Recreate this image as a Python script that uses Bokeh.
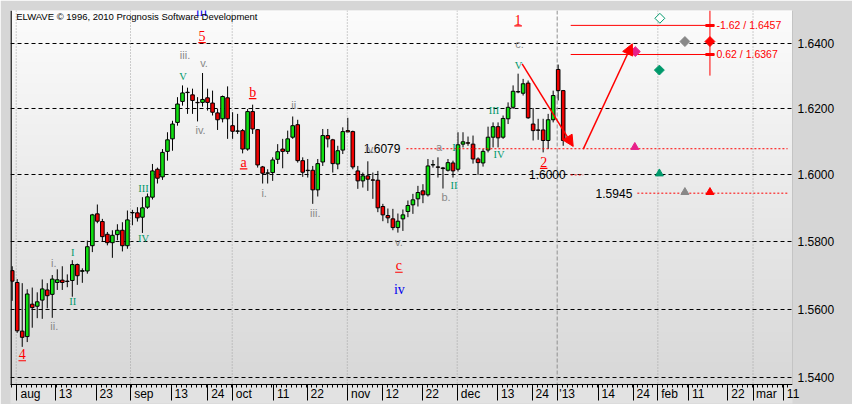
import math
import numpy as np
from bokeh.plotting import figure
from bokeh.models import (Range1d, FixedTicker, CustomJSTickFormatter, PrintfTickFormatter,
                          Span, Arrow, NormalHead)
from bokeh.core.properties import value
from bokeh.embed import file_html
from bokeh.resources import INLINE

# ---------------- data: daily bars, 31 Jul 2012 .. 3 Jan 2013 ----------------
opens = [1.5714, 1.5679, 1.5536, 1.5520, 1.5615, 1.5609, 1.5627, 1.5657, 1.5644, 1.5679,
         1.5686, 1.5683, 1.5685, 1.5732, 1.5712, 1.5713, 1.5788, 1.5883, 1.5860, 1.5822,
         1.5797, 1.5821, 1.5834, 1.5788, 1.5886, 1.5886, 1.5873, 1.5903, 1.5933, 1.6017,
         1.5994, 1.6071, 1.6109, 1.6159, 1.6223, 1.6251, 1.6243, 1.6220, 1.6220, 1.6234,
         1.6218, 1.6188, 1.6170, 1.6234, 1.6149, 1.6132, 1.6134, 1.6078, 1.6192, 1.6137,
         1.6024, 1.6005, 1.6007, 1.6047, 1.6078, 1.6071, 1.6114, 1.6152, 1.6043, 1.6013,
         1.6014, 1.5955, 1.6039, 1.6119, 1.6106, 1.6033, 1.6075, 1.6134, 1.6131, 1.6012,
         1.5982, 1.5997, 1.5985, 1.5984, 1.5905, 1.5878, 1.5868, 1.5842, 1.5868, 1.5890,
         1.5910, 1.5928, 1.5952, 1.5940, 1.6030, 1.6024, 1.6021, 1.6014, 1.6036, 1.6017,
         1.6093, 1.6097, 1.6093, 1.6048, 1.6036, 1.6075, 1.6114, 1.6146, 1.6114, 1.6170,
         1.6205, 1.6253, 1.6248, 1.6279, 1.6154, 1.6136, 1.6136, 1.6104, 1.6167, 1.6321,
         1.6256]
highs = [1.5727, 1.5689, 1.5677, 1.5659, 1.5664, 1.5650, 1.5688, 1.5677, 1.5701, 1.5718,
         1.5727, 1.5703, 1.5745, 1.5735, 1.5721, 1.5803, 1.5883, 1.5911, 1.5868, 1.5829,
         1.5834, 1.5852, 1.5858, 1.5893, 1.5895, 1.5903, 1.5933, 1.5944, 1.6033, 1.6022,
         1.6078, 1.6129, 1.6164, 1.6236, 1.6272, 1.6265, 1.6262, 1.6236, 1.6310, 1.6262,
         1.6256, 1.6200, 1.6241, 1.6269, 1.6190, 1.6185, 1.6139, 1.6200, 1.6213, 1.6139,
         1.6027, 1.6017, 1.6053, 1.6093, 1.6109, 1.6134, 1.6177, 1.6167, 1.6053, 1.6048,
         1.6027, 1.6048, 1.6139, 1.6139, 1.6109, 1.6088, 1.6144, 1.6173, 1.6134, 1.6027,
         1.6007, 1.6041, 1.6007, 1.6012, 1.5913, 1.5899, 1.5898, 1.5884, 1.5896, 1.5923,
         1.5943, 1.5967, 1.5972, 1.6048, 1.6045, 1.6053, 1.6024, 1.6048, 1.6043, 1.6129,
         1.6129, 1.6116, 1.6119, 1.6053, 1.6078, 1.6146, 1.6159, 1.6159, 1.6180, 1.6220,
         1.6272, 1.6308, 1.6292, 1.6287, 1.6203, 1.6170, 1.6170, 1.6185, 1.6256, 1.6336,
         1.6258]
lows = [1.5625, 1.5531, 1.5490, 1.5504, 1.5546, 1.5574, 1.5572, 1.5603, 1.5575, 1.5657,
        1.5657, 1.5665, 1.5637, 1.5672, 1.5678, 1.5705, 1.5769, 1.5855, 1.5799, 1.5789,
        1.5752, 1.5804, 1.5771, 1.5779, 1.5849, 1.5860, 1.5826, 1.5898, 1.5926, 1.5974,
        1.5985, 1.6043, 1.6073, 1.6149, 1.6210, 1.6185, 1.6185, 1.6162, 1.6207, 1.6195,
        1.6180, 1.6136, 1.6159, 1.6109, 1.6109, 1.6124, 1.6065, 1.6073, 1.6124, 1.6022,
        1.5974, 1.5974, 1.5982, 1.6033, 1.6020, 1.6063, 1.6109, 1.6037, 1.5994, 1.5992,
        1.5913, 1.5935, 1.6027, 1.6083, 1.6007, 1.6017, 1.6063, 1.6129, 1.6017, 1.5958,
        1.5962, 1.5952, 1.5928, 1.5888, 1.5861, 1.5855, 1.5834, 1.5827, 1.5832, 1.5873,
        1.5883, 1.5905, 1.5915, 1.5935, 1.6022, 1.5992, 1.5959, 1.6010, 1.5992, 1.6010,
        1.6083, 1.6088, 1.6034, 1.6000, 1.6025, 1.6068, 1.6083, 1.6083, 1.6109, 1.6154,
        1.6200, 1.6248, 1.6241, 1.6170, 1.6104, 1.6106, 1.6068, 1.6078, 1.6159, 1.6226,
        1.6088]
closes = [1.5683, 1.5537, 1.5518, 1.5645, 1.5605, 1.5622, 1.5660, 1.5640, 1.5689, 1.5687,
          1.5679, 1.5682, 1.5732, 1.5699, 1.5714, 1.5785, 1.5880, 1.5861, 1.5815, 1.5797,
          1.5819, 1.5834, 1.5788, 1.5865, 1.5887, 1.5871, 1.5901, 1.5934, 1.6012, 1.5990,
          1.6068, 1.6106, 1.6154, 1.6215, 1.6249, 1.6250, 1.6226, 1.6219, 1.6229, 1.6220,
          1.6190, 1.6167, 1.6238, 1.6170, 1.6132, 1.6133, 1.6078, 1.6192, 1.6139, 1.6030,
          1.6005, 1.6006, 1.6045, 1.6070, 1.6071, 1.6109, 1.6149, 1.6043, 1.6008, 1.6014,
          1.5955, 1.6034, 1.6119, 1.6109, 1.6034, 1.6073, 1.6131, 1.6130, 1.6024, 1.5982,
          1.5997, 1.5987, 1.5984, 1.5901, 1.5880, 1.5871, 1.5842, 1.5861, 1.5880, 1.5908,
          1.5925, 1.5947, 1.5940, 1.6027, 1.6031, 1.6023, 1.6019, 1.6037, 1.6012, 1.6091,
          1.6100, 1.6096, 1.6048, 1.6037, 1.6071, 1.6114, 1.6146, 1.6112, 1.6171, 1.6205,
          1.6254, 1.6252, 1.6277, 1.6173, 1.6134, 1.6135, 1.6104, 1.6167, 1.6241, 1.6256,
          1.6104]

x_tick_labels = ["aug", "13", "23", "sep", "13", "24", "oct", "11", "22", "nov", "12", "22",
                 "dec", "13", "24", "'13", "14", "24", "feb", "11", "22", "mar", "11"]
y_ticks = [1.54, 1.56, 1.58, 1.60, 1.62, 1.64]

# Elliott wave labels (bar position, price)
impulse_text = ["I", "II", "III", "IV", "V", "I", "II", "III", "IV", "V"]
impulse_bar = [12.1, 12.1, 26.2, 26.2, 34.1, 88.2, 88.2, 96.2, 97.2, 101.1]
impulse_price = [1.5769, 1.5622, 1.5958, 1.5810, 1.6298, 1.6084, 1.5968, 1.6195, 1.6063, 1.6334]

minor_text = ["i.", "ii.", "iii.", "v.", "iv.", "i.", "ii.", "iii.", "iv.", "v.", "a", "b.", "c."]
minor_bar = [8.3, 8.4, 34.5, 38.3, 37.6, 50.3, 56.5, 60.5, 71.5, 77.2, 85.2, 86.6, 101.3]
minor_price = [1.5736, 1.5551, 1.6364, 1.6342, 1.6137, 1.5947, 1.6213, 1.5887, 1.6079, 1.5798,
               1.6085, 1.5935, 1.6398]

major_text = ["4", "5", "a", "b", "c", "1", "2"]
major_bar = [2.0, 37.9, 46.2, 48.0, 77.2, 101.0, 106.1]
major_price = [1.5468, 1.6423, 1.6037, 1.6251, 1.5728, 1.6475, 1.6039]

inter_text = ["iii", "iv"]
inter_bar = [37.8, 77.3]
inter_price = [1.6499, 1.5658]

# price levels
level_values = [1.6079, 1.6000, 1.5945]
level_labels = ["1.6079", "1.6000", "1.5945"]

# fibonacci targets
target_labels = ["-1.62 / 1.6457", "0.62 / 1.6367"]
target_values = [1.6457, 1.6367]

# projection arrows (from bar/price to bar/price)
arrow_from_bar = [101.8, 114.0]
arrow_from_price = [1.6338, 1.6078]
arrow_to_bar = [112.0, 123.8]
arrow_to_price = [1.6086, 1.6400]

# projected turning points
diamond_bar = [124.4, 129.2, 134.3, 139.3]
diamond_price = [1.6376, 1.6319, 1.6407, 1.6407]
diamond_color = ["#e8208a", "#00996b", "#888888", "#ff0000"]
hollow_bar = [129.3]
hollow_price = [1.6479]
tri_bar = [124.3, 129.2, 134.3, 139.3]
tri_price = [1.6084, 1.6004, 1.5948, 1.5948]
tri_color = ["#e8208a", "#00996b", "#888888", "#ff0000"]

# ---------------- layout / style ----------------
x_tick_pos = [0.8, 8.64, 16.77, 23.62, 31.74, 39.05, 43.92, 52.1, 58.9, 66.9, 73.87, 81.85,
              88.84, 96.94, 103.8, 108.8, 116.99, 123.98, 128.9, 134.96, 142.9, 147.9, 153.9]
X_LO, X_HI = -0.34, 155.78
Y_LO, Y_HI = 1.53806, 1.65032
PX_PER_LN = 5300.0
FRAME_LEFT_PX = 10.0
PX_PER_BAR = 5.009

SANS = value("Liberation Sans")
SERIF = value("Liberation Serif")

# labels sit just right of their separator tick: pad with no-break spaces
CHAR_W = {"a": 6.67, "u": 6.67, "g": 6.67, "s": 6.0, "e": 6.67, "p": 6.67, "o": 6.67,
          "c": 6.0, "t": 3.34, "n": 6.67, "v": 6.0, "d": 6.67, "f": 3.34, "b": 6.67,
          "m": 10.0, "r": 4.0, "'": 2.3}
NBSP_W = 3.34
def padded(lab, pos):
    w = sum(CHAR_W.get(ch, 6.67) for ch in lab)
    n = int(round((w + 6.0) / NBSP_W))
    tick_px = FRAME_LEFT_PX + (pos - X_LO) * PX_PER_BAR
    if tick_px - (n * NBSP_W + w) / 2 < 0:      # label box would be pushed inside the canvas
        n = int(round((tick_px + 3.3) / NBSP_W))
    return "\u00a0" * n + lab
x_tick_text = [padded(s, q) for s, q in zip(x_tick_labels, x_tick_pos)]

p = figure(width=852, height=404, output_backend="svg", toolbar_location=None,
           y_axis_type="log", y_axis_location="right",
           x_range=Range1d(X_LO, X_HI), y_range=Range1d(Y_LO, Y_HI),
           min_border_left=10, min_border_top=10, min_border_right=60, min_border_bottom=20)
p.outline_line_color = None
p.border_fill_color = "#d6d6d6"
p.background_fill_color = "#ececec"

# gradient background
n = 200
t = np.linspace(0, 1, n)[:, None]
bot = np.array([216, 216, 216]); top = np.array([252, 252, 252])
rgb = (bot + (top - bot) * t).astype(np.uint8)
img = np.empty((n, 1), dtype=np.uint32)
view = img.view(dtype=np.uint8).reshape((n, 1, 4))
view[:, :, 0] = rgb[:, 0:1]
view[:, :, 1] = rgb[:, 1:2]
view[:, :, 2] = rgb[:, 2:3]
view[:, :, 3] = 255
p.image_rgba(image=[img], x=X_LO, y=Y_LO, dw=X_HI - X_LO, dh=Y_HI - Y_LO, level="image")

# axes
p.xgrid.visible = False
p.ygrid.grid_line_color = "black"
p.ygrid.grid_line_dash = "4 3"
p.ygrid.grid_line_width = 1

p.yaxis.ticker = FixedTicker(ticks=y_ticks)
p.yaxis.formatter = PrintfTickFormatter(format="%.4f")
p.yaxis.major_tick_out = 0
p.yaxis.major_tick_in = 0
p.yaxis.minor_tick_out = 0
p.yaxis.minor_tick_in = 0
p.yaxis.major_label_standoff = 5
p.yaxis.major_label_text_font = "Liberation Sans"
p.yaxis.major_label_text_font_size = "12px"
p.yaxis.major_label_text_color = "black"
p.yaxis.axis_line_color = "#c4c4c4"

minor = [k - 0.15 for k in range(0, 156)]
p.xaxis.ticker = FixedTicker(ticks=x_tick_pos, minor_ticks=minor)
p.xaxis.formatter = CustomJSTickFormatter(
    args=dict(pos=x_tick_pos, labels=x_tick_text),
    code="""
    let k = 0, best = 1e9;
    for (let j = 0; j < pos.length; j++) { const d = Math.abs(pos[j] - tick); if (d < best) { best = d; k = j; } }
    return labels[k];
    """)
p.xaxis.major_tick_out = 16
p.xaxis.major_tick_in = 0
p.xaxis.minor_tick_out = 3
p.xaxis.minor_tick_in = 0
p.xaxis.major_label_standoff = -14
p.xaxis.major_label_text_font = "Liberation Sans"
p.xaxis.major_label_text_font_size = "12px"
p.xaxis.major_label_text_color = "black"
p.xaxis.axis_line_color = "black"
p.xaxis.major_tick_line_color = "black"
p.xaxis.minor_tick_line_color = "black"
p.xaxis.background_fill_color = "#e2e2e2"

# month separators
for lab, pos in zip(x_tick_labels, x_tick_pos):
    if lab.isalpha():
        p.add_layout(Span(location=pos, dimension="height", line_color="#a0a0a0",
                          line_dash="1 2", line_width=1, level="underlay"))
    elif lab.startswith("'"):
        p.add_layout(Span(location=pos, dimension="height", line_color="#909090",
                          line_dash="4 2", line_width=1, level="underlay"))
p.add_layout(Span(location=X_LO + 0.1, dimension="height", line_color="black", line_width=1.5))

# candles
bars = list(range(len(opens)))
up = [c >= o for o, c in zip(opens, closes)]
body_top = [max(o, c) for o, c in zip(opens, closes)]
body_bot = [min(o, c) for o, c in zip(opens, closes)]
colors = ["#10e010" if u else "#f00000" for u in up]
p.segment(x0=bars, y0=lows, x1=bars, y1=highs, line_color="black", line_width=1)
p.vbar(x=bars, width=0.72, top=body_top, bottom=body_bot, fill_color=colors,
       line_color="black", line_width=1)

# price levels
lvl_start = [78.7, 111.5, 124.8]
lvl_end = [154.8, 114.0, 154.8]
p.segment(x0=lvl_start, y0=level_values, x1=lvl_end, y1=level_values,
          line_color="red", line_dash="2 2", line_width=1)
p.text(x=[77.5, 110.5, 123.8], y=level_values, text=level_labels, text_align="right",
       text_baseline="middle", text_font=SANS, text_font_size=value("12px"), text_color="black")

# target cross
p.segment(x0=[111.5, 111.5], y0=target_values, x1=[140.2, 140.2], y1=target_values,
          line_color="red", line_width=1)
p.segment(x0=[138.4, 138.4], y0=target_values, x1=[140.2, 140.2], y1=target_values,
          line_color="red", line_width=3)
p.segment(x0=[139.3], y0=[1.6302], x1=[139.3], y1=[Y_HI], line_color="red", line_width=1)
p.text(x=[140.6, 140.6], y=target_values, text=target_labels, text_align="left",
       text_baseline="middle", text_font=SANS, text_font_size=value("10.5px"), text_color="red")

# arrows
for xs, ys, xe, ye in zip(arrow_from_bar, arrow_from_price, arrow_to_bar, arrow_to_price):
    p.add_layout(Arrow(end=NormalHead(size=11, fill_color="red", line_color="red"),
                       x_start=xs, y_start=ys, x_end=xe, y_end=ye,
                       line_color="red", line_width=1.5))

# markers
p.scatter(x=diamond_bar, y=diamond_price, marker="square", angle=math.pi / 4, size=7,
          fill_color=diamond_color, line_color=diamond_color)
p.scatter(x=hollow_bar, y=hollow_price, marker="square", angle=math.pi / 4, size=7,
          fill_color="white", line_color="#00996b", line_width=1)
p.scatter(x=tri_bar, y=tri_price, marker="triangle", size=8,
          fill_color=tri_color, line_color=tri_color)

# wave labels
p.text(x=impulse_bar, y=impulse_price, text=impulse_text, text_align="center",
       text_baseline="middle", text_font=SERIF, text_font_size=value("10.5px"),
       text_color="#00996b")
p.text(x=minor_bar, y=minor_price, text=minor_text, text_align="center",
       text_baseline="middle", text_font=SANS, text_font_size=value("11px"),
       text_color="#888888")
p.text(x=major_bar, y=major_price, text=major_text, text_align="center",
       text_baseline="middle", text_font=SERIF, text_font_size=value("14px"),
       text_color="red")
ul_y = [v * math.exp(-6.3 / PX_PER_LN) for v in major_price]
p.segment(x0=[b - 0.75 for b in major_bar], y0=ul_y, x1=[b + 0.75 for b in major_bar], y1=ul_y,
          line_color="red", line_width=1.2)
p.text(x=inter_bar, y=inter_price, text=inter_text, text_align="center",
       text_baseline="middle", text_font=SERIF, text_font_size=value("14px"),
       text_color="#0000ee")

# header
p.text(x=[0.8], y=[1.6485], text=["ELWAVE \u00a9 1996, 2010 Prognosis Software Development"],
       text_align="left", text_baseline="middle", text_font=SANS,
       text_font_size=value("9.5px"), text_color="black")

open("out.html", "w").write(file_html(p, INLINE))
